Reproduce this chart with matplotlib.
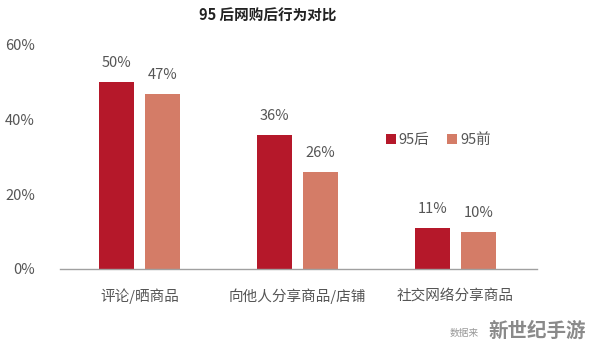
import matplotlib
matplotlib.use("Agg")
import matplotlib.pyplot as plt
import numpy as np

plt.rcParams['font.family'] = ['Noto Sans CJK SC', 'DejaVu Sans']

title = "95 后网购后行为对比"
categories = ["评论/晒商品", "向他人分享商品/店铺", "社交网络分享商品"]
series_names = ["95后", "95前"]
after95 = [50, 36, 11]
before95 = [47, 26, 10]
yticks = [0, 20, 40, 60]
ytick_labels = ["0%", "20%", "40%", "60%"]
colors = ["#B5182A", "#D47C67"]

fig = plt.figure(figsize=(5.94, 3.54), dpi=100)
ax = fig.add_axes([60/594, 1-269/354, 477/594, 224/354])

x = np.arange(len(categories))
w = 0.222
off = 0.144
b1 = ax.bar(x - off, after95, width=w, color=colors[0], label=series_names[0])
b2 = ax.bar(x + off, before95, width=w, color=colors[1], label=series_names[1])

for bars, vals in ((b1, after95), (b2, before95)):
    for r, v in zip(bars, vals):
        ax.text(r.get_x() + r.get_width()/2, v + 3.2, f"{v}%", ha='center', va='bottom',
                fontsize=10.5, color='#555555')

ax.set_xlim(-0.503, 2.516)
ax.set_ylim(0, 60)
ax.set_yticks(yticks)
ax.set_yticklabels(ytick_labels, fontsize=10.5, color='#555555')
ax.set_xticks(x)
ax.set_xticklabels(categories, fontsize=10.5, color='#555555')
ax.tick_params(axis='y', length=0, pad=18)
ax.tick_params(axis='x', length=0, pad=14)
for s in ('top', 'right', 'left'):
    ax.spines[s].set_visible(False)
ax.spines['bottom'].set_color('#A0A0A0')
ax.spines['bottom'].set_linewidth(1.0)

leg = ax.legend(loc='center left', bbox_to_anchor=(0.655, 0.576), ncol=2, frameon=False,
                fontsize=10.5, handlelength=0.7, handleheight=0.7, handletextpad=0.2,
                columnspacing=1.2, labelcolor='#555555')

fig.text(268/594, 1-16/354, title, ha='center', va='center', fontsize=10.5, fontweight='bold', color='#222222')

fig.text(479/594, 1-333/354, "数据来", ha='right', va='center', fontsize=7, style='italic', color='#999999')
fig.text(586/594, 1-331/354, "新世纪手游", ha='right', va='center', fontsize=14, fontweight='bold', color='#8A8A8A')

fig.savefig("out.png", dpi=100)
